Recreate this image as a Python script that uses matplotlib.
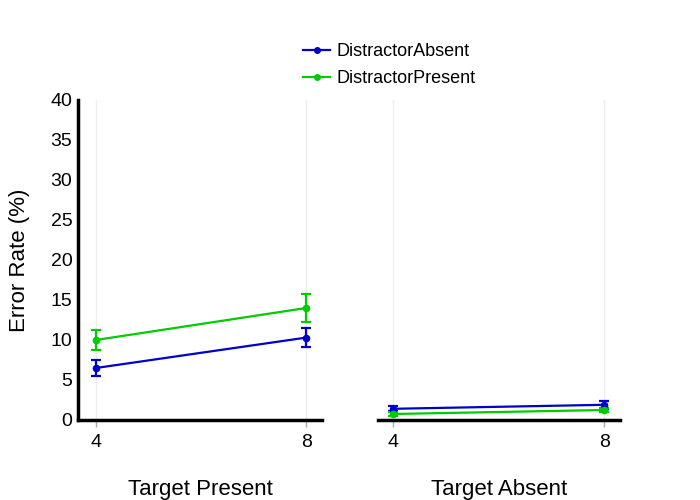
import matplotlib
matplotlib.use('Agg')
from matplotlib import pyplot as plt
from matplotlib.lines import Line2D

plt.rcParams['font.family'] = ['Liberation Sans', 'DejaVu Sans']

set_sizes = [4, 8]
panels = ['Target Present', 'Target Absent']
series = ['DistractorAbsent', 'DistractorPresent']
colors = {'DistractorAbsent': '#0000cc', 'DistractorPresent': '#00cc00'}

# error rate (%) and error bar half-width, per panel
err_rate = {
    'Target Present': {'DistractorAbsent': [6.5, 10.3], 'DistractorPresent': [10.0, 14.0]},
    'Target Absent': {'DistractorAbsent': [1.4, 1.9], 'DistractorPresent': [0.75, 1.25]},
}
err_bar = {
    'Target Present': {'DistractorAbsent': [1.0, 1.2], 'DistractorPresent': [1.2, 1.7]},
    'Target Absent': {'DistractorAbsent': [0.3, 0.5], 'DistractorPresent': [0.2, 0.3]},
}

fig = plt.figure(figsize=(7, 5), dpi=100)
axes = [fig.add_axes([78/700, 0.16, 244/700, 0.64]),
        fig.add_axes([378/700, 0.16, 242/700, 0.64])]
xlims = [(3.66, 8.3), (3.72, 8.3)]

for ax, p, xl in zip(axes, panels, xlims):
    for s in series:
        ax.errorbar(set_sizes, err_rate[p][s], yerr=err_bar[p][s], color=colors[s],
                    marker='o', ms=4.5, lw=1.6, capsize=3.5, capthick=1.6, elinewidth=1.6,
                    clip_on=False, zorder=3)
    ax.set_xlim(*xl)
    ax.set_ylim(0, 40)
    ax.set_xticks(set_sizes)
    ax.grid(axis='x', color='#eeeeee', lw=1)
    ax.set_axisbelow(True)
    for side in ['top', 'right']:
        ax.spines[side].set_visible(False)
    ax.spines['bottom'].set_linewidth(2.5)
    ax.spines['left'].set_linewidth(2.5)
    ax.tick_params(axis='x', length=5, width=1, color='#aaaaaa', labelsize=14, pad=5)
    ax.tick_params(axis='y', length=0, labelsize=14, pad=4)
    ax.set_xlabel(p, fontsize=16, labelpad=20)

axes[0].set_yticks(range(0, 41, 5))
axes[0].set_ylabel('Error Rate (%)', fontsize=16, labelpad=15)
axes[1].spines['left'].set_visible(False)
axes[1].set_yticks([])

handles = [Line2D([0], [0], color=colors[s], marker='o', ms=4, lw=1.6) for s in series]
fig.legend(handles, series, loc='upper left', bbox_to_anchor=(287/700, 1 - 27/500),
           frameon=False, fontsize=13, handlelength=1.5, handletextpad=0.35, labelspacing=0.55)

fig.savefig('out.png', dpi=100)
